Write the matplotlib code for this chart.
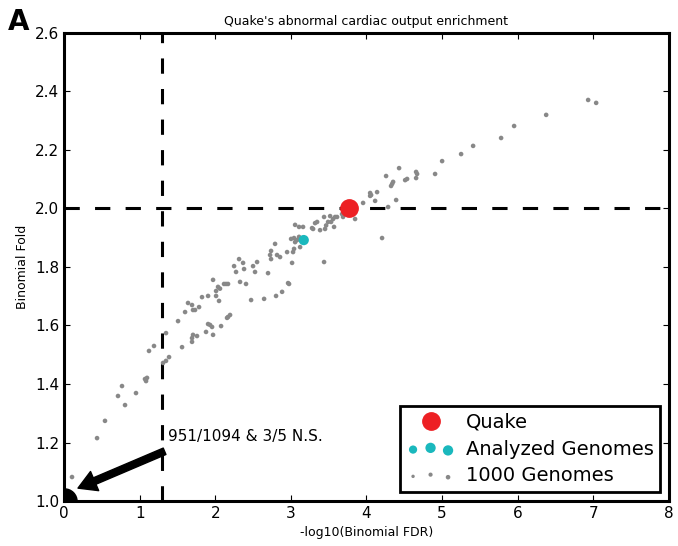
import numpy as np
import matplotlib
matplotlib.use("Agg")
import matplotlib.pyplot as plt
from matplotlib.legend_handler import HandlerPathCollection

# Quake and the one analyzed genome
quake_x, quake_y = 3.77, 2.00
analyzed_x = [3.17]
analyzed_y = [1.892]

# 1000 Genomes (significant ones)
g_x = [0.106, 0.437, 0.542, 0.807, 0.714, 0.952, 0.767, 1.098, 1.071, 1.085,
       1.124, 1.190, 1.389, 1.349, 1.310, 1.349, 1.561, 1.693, 1.693, 1.706,
       1.759, 1.878, 1.971, 1.905, 1.931, 1.958, 2.077, 2.156, 2.169, 2.196,
       1.508, 1.601, 1.706, 1.733, 1.693, 1.640, 1.786, 1.825, 1.905, 2.011,
       2.050, 2.011, 2.037, 2.063, 1.971, 2.143, 2.116, 2.169, 2.328, 2.407,
       2.249, 2.275, 2.315, 2.368, 2.381, 2.526, 2.553, 2.474, 2.500, 2.698,
       2.646, 2.804, 2.884, 2.963, 2.976, 2.725, 2.738, 2.738, 2.817, 2.857,
       2.791, 2.950, 3.029, 3.042, 3.122, 3.016, 3.439, 3.003, 3.042, 3.082,
       3.056, 3.108, 3.056, 3.108, 3.161, 3.280, 3.294, 3.320, 3.347, 3.386,
       3.452, 3.466, 3.492, 3.532, 3.439, 3.519, 3.585, 3.558, 3.611, 3.677,
       3.690, 3.571, 3.849, 3.955, 4.048, 4.061, 4.048, 4.114, 4.140, 4.206,
       4.286, 4.392, 4.259, 4.325, 4.339, 4.352, 4.431, 4.511, 4.537, 4.656,
       4.669, 4.656, 4.907, 5.000, 5.251, 5.410, 5.780, 5.952, 6.376, 6.931,
       7.037]
g_y = [1.082, 1.215, 1.274, 1.328, 1.359, 1.369, 1.393, 1.421, 1.417, 1.410,
       1.513, 1.530, 1.492, 1.479, 1.472, 1.574, 1.526, 1.544, 1.557, 1.568,
       1.564, 1.578, 1.568, 1.605, 1.602, 1.595, 1.598, 1.626, 1.629, 1.636,
       1.615, 1.646, 1.653, 1.653, 1.670, 1.677, 1.663, 1.697, 1.701, 1.701,
       1.684, 1.718, 1.732, 1.726, 1.756, 1.742, 1.742, 1.742, 1.749, 1.742,
       1.803, 1.783, 1.827, 1.814, 1.793, 1.783, 1.817, 1.687, 1.803, 1.779,
       1.691, 1.701, 1.715, 1.745, 1.742, 1.841, 1.855, 1.827, 1.841, 1.834,
       1.879, 1.851, 1.851, 1.862, 1.868, 1.814, 1.817, 1.896, 1.899, 1.892,
       1.885, 1.903, 1.944, 1.937, 1.937, 1.933, 1.930, 1.950, 1.954, 1.926,
       1.930, 1.942, 1.954, 1.954, 1.971, 1.974, 1.971, 1.964, 1.971, 1.981,
       1.971, 1.937, 1.964, 2.019, 2.053, 2.046, 2.043, 2.026, 2.056, 1.899,
       2.005, 2.029, 2.111, 2.077, 2.084, 2.091, 2.138, 2.097, 2.101, 2.125,
       2.118, 2.104, 2.118, 2.162, 2.186, 2.214, 2.241, 2.282, 2.320, 2.371,
       2.361]

fdr_cut = 1.3
fold_cut = 2.0
ns_label = "951/1094 & 3/5 N.S."

fig = plt.figure(figsize=(6.78, 5.46), dpi=100)
ax = fig.add_axes([0.0944, 0.0824, 0.8923, 0.8572])

ax.axvline(fdr_cut, color='black', lw=2.2, dashes=(5, 5), zorder=1)
ax.axhline(fold_cut, color='black', lw=2.2, dashes=(5, 5), zorder=1)

# non-significant blob at the origin
ax.scatter([0], [1.0], s=330, color='black', zorder=4, clip_on=True)

ax.plot([quake_x], [quake_y], 'o', color='#ed2024', markersize=12.5,
        markeredgecolor='#ed2024', zorder=5, label='Quake')
sc_a = ax.scatter(analyzed_x, analyzed_y, s=55, color='#1ab8bd', zorder=4,
                  edgecolors='none', label='Analyzed Genomes')
sc_g = ax.scatter(g_x, g_y, s=11, color='#888888', zorder=3,
                  edgecolors='none', label='1000 Genomes')

# arrow pointing at the origin blob, text next to it
ax.annotate('', xy=(0.185, 1.044), xytext=(1.33, 1.17),
            arrowprops=dict(facecolor='black', edgecolor='black', width=5,
                            headwidth=15, headlength=13, shrink=0.0),
            zorder=6)
ax.text(1.38, 1.22, ns_label, fontsize=11, va='center', ha='left', zorder=6)

ax.set_xlim(0, 8)
ax.set_ylim(1.0, 2.6)
ax.set_xticks(range(0, 9))
ax.set_yticks(np.arange(1.0, 2.61, 0.2))
ax.set_yticklabels(['%.1f' % v for v in np.arange(1.0, 2.61, 0.2)])
ax.tick_params(direction='in', labelsize=11, length=4, top=True, right=True)
for s in ax.spines.values():
    s.set_linewidth(2.2)

ax.set_title("Quake's abnormal cardiac output enrichment", fontsize=9)
ax.set_xlabel('-log10(Binomial FDR)', fontsize=9)
ax.set_ylabel('Binomial Fold', fontsize=9)

leg = ax.legend(loc='lower right', fontsize=14, numpoints=1, scatterpoints=3,
                fancybox=False, framealpha=1, borderaxespad=0.45,
                handlelength=2.4, handletextpad=0.6, labelspacing=0.4,
                borderpad=0.35,
                handler_map={sc_a: HandlerPathCollection(sizes=[35, 55, 55]),
                             sc_g: HandlerPathCollection(sizes=[6, 9, 11])})
leg.get_frame().set_edgecolor('black')
leg.get_frame().set_linewidth(2.0)

fig.text(0.012, 0.945, 'A', fontsize=20, fontweight='bold')

fig.savefig('out.png', dpi=100)
